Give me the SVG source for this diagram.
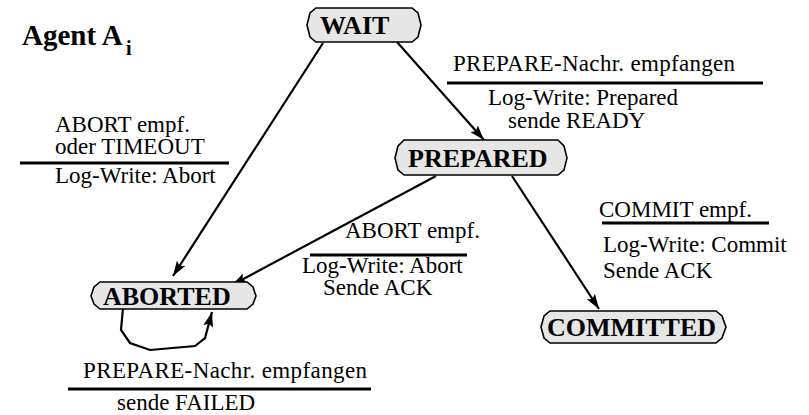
<svg xmlns="http://www.w3.org/2000/svg" width="809" height="415" viewBox="0 0 809 415">
  <style>
    .state { fill: #e6e6e6; stroke: #000; stroke-width: 1.6; }
    .state-label { font-family: "Liberation Serif", "Times New Roman", serif; font-weight: bold; font-size: 26px; fill: #000; }
    .label { font-family: "Liberation Serif", "Times New Roman", serif; font-size: 23px; fill: #000; }
    .title { font-family: "Liberation Serif", "Times New Roman", serif; font-weight: bold; font-size: 29px; fill: #000; }
    .bar { stroke: #000; stroke-width: 3; }
    .edge { fill: none; stroke: #000; stroke-width: 2.2; marker-end: url(#arrow); }
  </style>
  <defs>
    <marker id="arrow" markerUnits="userSpaceOnUse" markerWidth="15" markerHeight="10" refX="15" refY="5" orient="auto">
      <path d="M0,0 L15,5 L0,10 L3,5 z" fill="#000"/>
    </marker>
  </defs>

  <rect width="809" height="415" fill="#fff"/>

  <!-- title -->
  <text class="title" x="22" y="45">Agent A<tspan x="126" y="55" font-size="20">i</tspan></text>

  <!-- transitions -->
  <g id="connectors">
    <line class="edge" x1="323" y1="43" x2="173" y2="276"/>
    <line class="edge" x1="397" y1="42" x2="484" y2="140"/>
    <line class="edge" x1="436" y1="176" x2="232" y2="285"/>
    <line class="edge" x1="512" y1="176" x2="599" y2="309"/>
    <path class="edge" d="M123,308 L121,330 L130,343 L150,350 L195,346 L205,338 L212,312"/>
  </g>

  <!-- states -->
  <g id="wait">
    <polygon class="state" points="316,8 412,8 418,13 421,25 418,37 412,42 316,42 310,37 307,25 310,13"/>
    <text class="state-label" x="320" y="34">WAIT</text>
  </g>
  <g id="prepared">
    <polygon class="state" points="404,140 558,140 564,146 567,158 564,170 558,175 404,175 398,170 395,158 398,146"/>
    <text class="state-label" x="408" y="167">PREPARED</text>
  </g>
  <g id="aborted">
    <polygon class="state" points="100,282 247,282 253,287 256,296 253,304 247,309 100,309 94,304 91,296 94,287"/>
    <text class="state-label" x="103" y="305">ABORTED</text>
  </g>
  <g id="committed">
    <polygon class="state" points="550,311 716,311 722,316 726,327 722,338 716,343 550,343 544,338 541,327 544,316"/>
    <text class="state-label" x="547" y="336">COMMITTED</text>
  </g>

  <!-- transition annotations: event above the bar, action below -->
  <g id="label-prepare">
    <text class="label" x="453" y="71" textLength="282">PREPARE-Nachr. empfangen</text>
    <line class="bar" x1="447" y1="83" x2="763" y2="83"/>
    <text class="label" x="488" y="105">Log-Write: Prepared</text>
    <text class="label" x="508" y="128">sende READY</text>
  </g>
  <g id="label-abort-timeout">
    <text class="label" x="55" y="132">ABORT empf.</text>
    <text class="label" x="55" y="154">oder TIMEOUT</text>
    <line class="bar" x1="20" y1="163" x2="229" y2="163"/>
    <text class="label" x="55" y="183">Log-Write: Abort</text>
  </g>
  <g id="label-abort">
    <text class="label" x="345" y="238">ABORT empf.</text>
    <line class="bar" x1="310" y1="255" x2="467" y2="255"/>
    <text class="label" x="302" y="273">Log-Write: Abort</text>
    <text class="label" x="323" y="295">Sende ACK</text>
  </g>
  <g id="label-commit">
    <text class="label" x="599" y="217">COMMIT empf.</text>
    <line class="bar" x1="602" y1="223" x2="769" y2="223"/>
    <text class="label" x="603" y="252">Log-Write: Commit</text>
    <text class="label" x="603" y="278">Sende ACK</text>
  </g>
  <g id="label-failed">
    <text class="label" x="83" y="378" textLength="284">PREPARE-Nachr. empfangen</text>
    <line class="bar" x1="68" y1="389" x2="371" y2="389"/>
    <text class="label" x="117" y="410">sende FAILED</text>
  </g>
</svg>
